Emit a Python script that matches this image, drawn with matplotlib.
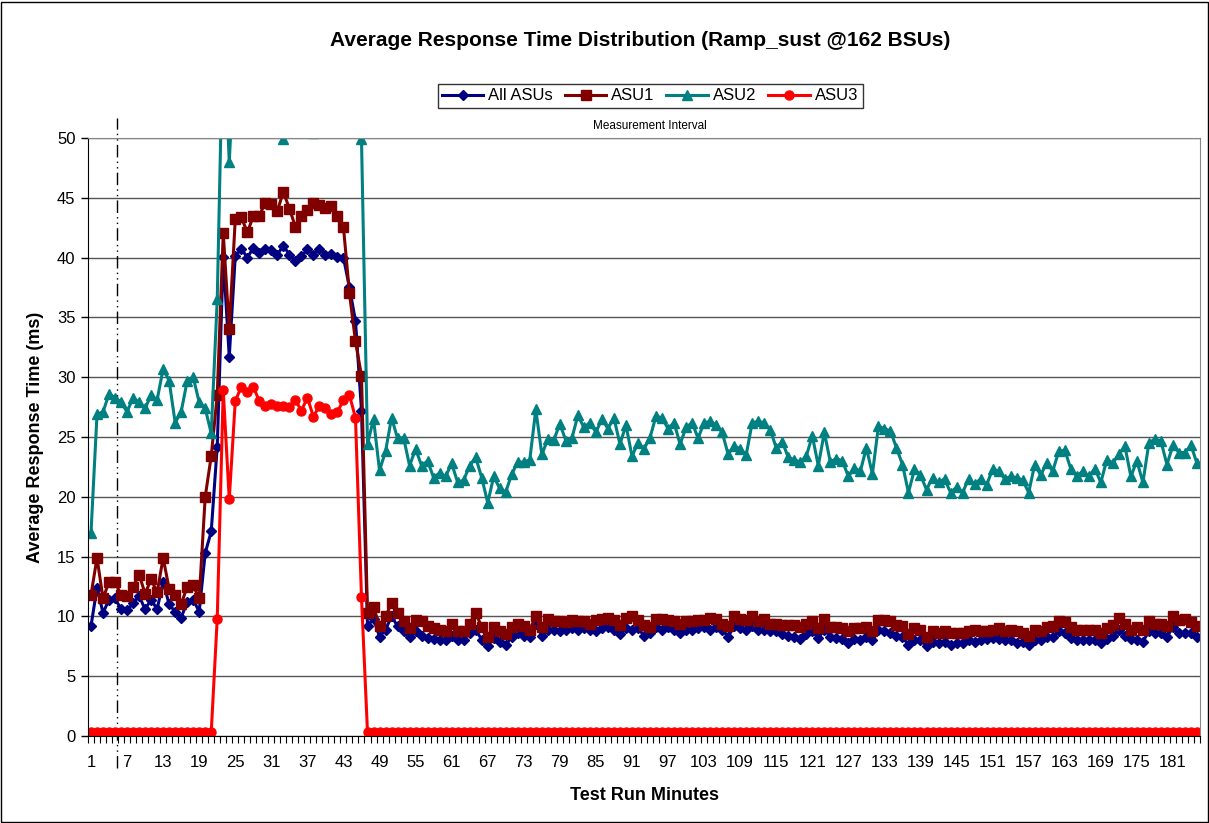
import numpy as np
import matplotlib
matplotlib.use('Agg')
import matplotlib.pyplot as plt
from matplotlib.patches import Rectangle

plt.rcParams['font.family'] = ['Liberation Sans', 'DejaVu Sans']

# ---- data (ms per test run minute) ----
all_pre = [9.2, 12.4, 10.3, 11.4, 11.5, 10.6, 10.5, 11.1, 11.7, 10.6, 11.4, 10.6, 12.9, 11.0, 10.4,
           9.9, 11.2, 11.4, 10.4, 15.3, 17.1, 24.2]
all_ramp = [40.05, 31.7, 40.1, 40.75, 40.0, 40.8, 40.4, 40.7, 40.6, 40.25, 41.0, 40.25, 39.75, 40.1,
            40.7, 40.25, 40.7, 40.25, 40.3, 40.05, 40.0, 37.5, 34.7, 27.2]
all_post = [9.2, 9.8, 8.3, 8.9, 10.0, 9.2, 8.8, 8.3, 8.8, 8.4, 8.2, 8.1, 8.0, 8.05, 8.4, 8.0, 8.05,
            8.6, 8.9, 8.05, 7.55, 8.2, 7.9, 7.6, 8.3, 8.65, 8.4, 8.3, 9.4, 8.4, 8.9, 8.9, 8.8, 8.9, 9.0,
            8.9, 9.0, 8.9, 8.75, 9.0, 9.1, 8.9, 8.5, 9.0, 8.9, 9.0, 8.4, 8.65, 9.1, 8.9, 9.1, 8.9,
            8.65, 8.9, 8.9, 9.0, 9.1, 8.9, 9.1, 8.9, 8.3, 9.2, 9.0, 8.9, 9.2, 8.9, 8.9, 8.75, 8.75, 8.5,
            8.4, 8.3, 8.1, 8.5, 8.75, 8.2, 8.9, 8.3, 8.2, 8.1, 7.8, 8.1, 8.0, 8.3, 8.0, 8.9, 8.8,
            8.65, 8.4, 8.3, 7.6, 8.05, 8.0, 7.55, 7.9, 7.8, 7.9, 7.6, 7.8, 7.75, 8.0, 7.9, 8.0, 8.1, 8.2,
            8.1, 8.0, 8.05, 7.8, 7.9, 7.6, 8.05, 8.0, 8.3, 8.3, 8.75, 8.65, 8.2, 8.0, 8.0, 8.05, 8.0,
            7.8, 8.1, 8.4, 8.9, 8.4, 8.1, 8.0, 7.9, 8.75, 8.6, 8.65, 8.3, 9.1, 8.6, 8.65, 8.6, 8.3]

asu1_pre = [11.8, 14.9, 11.5, 12.9, 12.9, 11.75, 11.7, 12.5, 13.5, 11.9, 13.1, 12.0, 14.9, 12.3, 11.8,
            11.0, 12.5, 12.6, 11.5, 20.0, 23.4, 28.5]
asu1_ramp = [42.05, 34.0, 43.2, 43.4, 42.1, 43.45, 43.5, 44.6, 44.5, 43.9, 45.5, 44.1, 42.6, 43.45,
             44.0, 44.6, 44.4, 44.15, 44.35, 43.5, 42.55, 37.0, 33.0, 30.1]
asu1_post = [10.3, 10.8, 9.2, 10.0, 11.1, 10.3, 9.6, 9.0, 9.7, 9.6, 9.2, 9.0, 8.9, 8.8, 9.4, 8.8, 8.75,
             9.4, 10.3, 9.1, 8.3, 9.1, 8.75, 8.5, 9.1, 9.4, 9.2, 8.9, 10.0, 9.1, 9.8, 9.6, 9.6, 9.5, 9.7,
             9.6, 9.6, 9.4, 9.7, 9.8, 9.85, 9.7, 9.3, 9.85, 10.0, 9.7, 9.3, 9.1, 9.8, 9.8, 9.7, 9.65,
             9.4, 9.6, 9.6, 9.7, 9.7, 9.85, 9.8, 9.4, 9.2, 10.0, 9.8, 9.7, 10.05, 9.6, 9.8, 9.4, 9.4, 9.3,
             9.3, 9.3, 9.1, 9.4, 9.65, 9.0, 9.8, 9.1, 9.1, 9.0, 8.75, 9.0, 9.0, 9.1, 8.75, 9.7, 9.7,
             9.6, 9.3, 9.2, 8.5, 9.0, 8.9, 8.3, 8.75, 8.65, 8.75, 8.6, 8.65, 8.65, 8.8, 8.9, 8.8, 8.8, 8.9,
             9.0, 8.75, 8.9, 8.8, 8.65, 8.4, 8.9, 8.8, 9.1, 9.2, 9.6, 9.5, 9.1, 8.9, 8.9, 8.9, 8.9,
             8.65, 9.0, 9.3, 9.85, 9.4, 8.9, 9.1, 8.9, 9.6, 9.4, 9.4, 9.2, 10.0, 9.7, 9.8, 9.5, 9.2]

asu2_pre = [17.0, 26.9, 27.1, 28.6, 28.3, 27.9, 27.1, 28.3, 27.9, 27.4, 28.5, 28.1, 30.7, 29.7, 26.2,
            27.1, 29.7, 30.0, 27.9, 27.4, 25.3, 36.5]
asu2_ramp = [60, 48, 58, 62, 57, 60, 55, 50.6, 56, 58, 49.9, 55, 60, 57, 54, 50.4, 56, 59, 57, 60,
             58, 62, 60, 49.9]
asu2_post = [24.4, 26.5, 22.2, 23.8, 26.6, 24.9, 24.95, 22.6, 24.0, 22.6, 23.0, 21.6, 22.0, 21.7, 22.8,
             21.2, 21.4, 22.6, 23.3, 21.6, 19.5, 21.7, 20.7, 20.4, 21.9, 22.9, 22.9, 23.1, 27.3, 23.55,
             24.8, 24.75, 26.1, 24.7, 24.9,
             26.8, 25.8, 26.2, 25.4, 26.5, 25.7, 26.6, 24.4, 26.0, 23.4, 24.5, 24.0, 24.95, 26.75, 26.6,
             25.7, 26.2, 24.4, 25.8, 26.2, 24.9, 26.2, 26.3, 26.0, 25.4, 23.55, 24.25, 24.0, 23.5, 26.2,
             26.3, 26.2, 25.6, 24.1, 24.6,
             23.3, 23.1, 22.9, 23.4, 25.1, 22.6, 25.4, 22.9, 23.2, 23.0, 21.7, 22.4, 22.15, 24.1, 21.9,
             25.9, 25.7, 25.5, 24.1, 22.7, 20.35, 22.3, 21.8, 20.6, 21.6, 21.2, 21.5, 20.35, 20.8,
             20.35, 21.5, 21.05, 21.5, 21.0, 22.3,
             22.15, 21.5, 21.7, 21.6, 21.4, 20.35, 22.7, 21.8, 22.85, 22.15, 23.8, 23.9, 22.35, 21.7,
             22.15, 21.7, 22.35, 21.2, 23.1, 22.85, 23.55, 24.25, 21.7, 23.0, 21.2, 24.5, 24.85, 24.65,
             22.7, 24.3, 23.7, 23.7, 24.3, 22.8]

asu3_pre = [0.3, 0.3, 0.3, 0.3, 0.3, 0.3, 0.3, 0.3, 0.3, 0.3, 0.3, 0.3, 0.3, 0.3, 0.3, 0.3, 0.3, 0.3,
            0.3, 0.3, 0.3, 9.8]
asu3_ramp = [28.9, 19.8, 28.0, 29.2, 28.75, 29.2, 28.0, 27.6, 27.8, 27.6, 27.6, 27.5, 28.1, 27.2, 28.3,
             26.7, 27.6, 27.4, 26.9, 27.1, 28.1, 28.5, 26.6, 11.6]
asu3_post = [0.3, 0.3, 0.3, 0.3, 0.3, 0.3, 0.3, 0.3, 0.3, 0.3, 0.3, 0.3, 0.3, 0.3, 0.3, 0.3, 0.3, 0.3, 0.3, 0.3,
             0.3, 0.3, 0.3, 0.3, 0.3, 0.3, 0.3, 0.3, 0.3, 0.3, 0.3, 0.3, 0.3, 0.3, 0.3, 0.3, 0.3, 0.3, 0.3, 0.3,
             0.3, 0.3, 0.3, 0.3, 0.3, 0.3, 0.3, 0.3, 0.3, 0.3, 0.3, 0.3, 0.3, 0.3, 0.3, 0.3, 0.3, 0.3, 0.3, 0.3,
             0.3, 0.3, 0.3, 0.3, 0.3, 0.3, 0.3, 0.3, 0.3, 0.3, 0.3, 0.3, 0.3, 0.3, 0.3, 0.3, 0.3, 0.3, 0.3, 0.3,
             0.3, 0.3, 0.3, 0.3, 0.3, 0.3, 0.3, 0.3, 0.3, 0.3, 0.3, 0.3, 0.3, 0.3, 0.3, 0.3, 0.3, 0.3, 0.3, 0.3,
             0.3, 0.3, 0.3, 0.3, 0.3, 0.3, 0.3, 0.3, 0.3, 0.3, 0.3, 0.3, 0.3, 0.3, 0.3, 0.3, 0.3, 0.3, 0.3, 0.3,
             0.3, 0.3, 0.3, 0.3, 0.3, 0.3, 0.3, 0.3, 0.3, 0.3, 0.3, 0.3, 0.3, 0.3, 0.3, 0.3, 0.3, 0.3, 0.3]

all_asus = all_pre + all_ramp + all_post
asu1 = asu1_pre + asu1_ramp + asu1_post
asu2 = asu2_pre + asu2_ramp + asu2_post
asu3 = asu3_pre + asu3_ramp + asu3_post

minutes = np.arange(1, len(all_asus) + 1)
tick_minutes = list(range(1, 182, 6))
measure_start = 5.3

series = [
    ("All ASUs", all_asus, '#000080', 'D', 5.5),
    ("ASU1", asu1, '#800000', 's', 6.5),
    ("ASU2", asu2, '#008080', '^', 7.5),
    ("ASU3", asu3, '#FF0000', 'o', 6.5),
]

fig = plt.figure(figsize=(12.09, 8.23), dpi=100)
ax = fig.add_axes([88 / 1209, 87 / 823, 1112 / 1209, 598 / 823])

for name, vals, col, mk, ms in series:
    ax.plot(np.arange(1, len(vals) + 1), vals, color=col, marker=mk, markersize=ms,
            linewidth=2.2, markeredgecolor=col, label=name)

ax.set_xlim(0.5, len(minutes) + 0.5)
ax.set_ylim(0, 50)
ax.set_yticks(range(0, 51, 5))
ax.set_xticks(tick_minutes)
ax.set_xticks(np.arange(0.5, len(minutes) + 1, 1), minor=True)
ax.tick_params(axis='x', which='major', length=0, pad=14, labelsize=12)
ax.tick_params(axis='x', which='minor', length=5, width=0.8, direction='out')
ax.tick_params(axis='y', length=5, width=1, labelsize=12, pad=4)
ax.grid(axis='y', color='#555555', linewidth=1)
ax.set_axisbelow(True)

for s in ['top', 'right']:
    ax.spines[s].set_color('#888888')
ax.spines['left'].set_color('black')
ax.spines['bottom'].set_color('black')

# measurement interval marker
ax.plot([measure_start, measure_start], [-2.7, 51.7], color='black', linewidth=1,
        linestyle=(0, (9, 3, 1, 3, 1, 3)), clip_on=False, zorder=1)
ax.text(94, 51.0, "Measurement Interval", ha='center', va='center', fontsize=8.5)

ax.set_xlabel("Test Run Minutes", fontsize=13, fontweight='bold', labelpad=12)
ax.set_ylabel("Average Response Time (ms)", fontsize=13, fontweight='bold', labelpad=9)

fig.text(640 / 1209, 1 - 41 / 823, "Average Response Time Distribution (Ramp_sust @162 BSUs)",
         ha='center', va='center', fontsize=15, fontweight='bold')

leg = fig.legend(loc='center', bbox_to_anchor=(650 / 1209, 1 - 96 / 823), ncol=4, fontsize=12,
                 frameon=True, fancybox=False, edgecolor='black', handlelength=2.5,
                 handletextpad=0.3, columnspacing=0.7, borderpad=0.25)
leg.get_frame().set_linewidth(1)

fig.patches.append(Rectangle((0.001, 0.001), 0.998, 0.997, transform=fig.transFigure,
                             fill=False, edgecolor='black', linewidth=1))

fig.savefig('out.png', dpi=100)
